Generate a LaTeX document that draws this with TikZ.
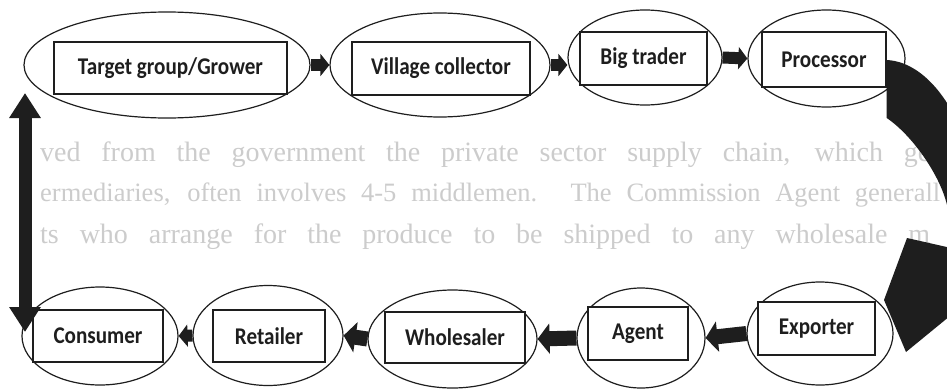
\documentclass[tikz,border=0pt]{standalone}
\usepackage{fontspec}
\setmainfont{Carlito}
\newfontfamily\boxfont[FakeStretch=0.88]{Carlito}
\newfontfamily\pagefont{Liberation Serif}
\usetikzlibrary{shapes.geometric,arrows.meta}

\definecolor{inkdark}{HTML}{1E1E1E}
\definecolor{pagetext}{HTML}{CCCCCC}

\tikzset{
  stageoval/.style={ellipse, draw=inkdark, line width=1.2pt, fill=white, inner sep=0pt},
  stagebox/.style={rectangle, draw=inkdark, line width=1.4pt, fill=white, inner sep=0pt,
    font=\boxfont\fontsize{24}{26}\selectfont\bfseries, text=inkdark},
  flowtop/.style={draw=inkdark, line width=12pt, -{Triangle[length=9pt,width=22pt]}},
  flowbot/.style={draw=inkdark, line width=15pt, -{Triangle[length=12pt,width=30pt]}},
  returnflow/.style={draw=inkdark, line width=13pt,
    {Triangle[length=25pt,width=30pt]}-{Triangle[length=25pt,width=30pt]}},
  pageline/.style={anchor=west, inner sep=0pt, text=pagetext,
    font=\pagefont\fontsize{28}{32}\selectfont},
}

\begin{document}
\begin{tikzpicture}[x=1pt, y=-1pt]
  \useasboundingbox (0,0) rectangle (947,388);
  \clip (0,0) rectangle (947,388);
  \fill[white] (0,0) rectangle (947,388);

  % running text of the page behind the chart
  \node[pageline] (p1) at (40,155) {\makebox[890pt][s]{ved from the government the private sector supply chain, which ge}};
  \node[pageline, font=\pagefont\fontsize{26.5}{30}\selectfont] (p2) at (40,195) {\makebox[900pt][s]{ermediaries, often involves 4-5 middlemen. The Commission Agent generall}};
  \node[pageline] (p3) at (40,237) {\makebox[890pt][s]{ts who arrange for the produce to be shipped to any wholesale m}};

  % upper row: grower to processor
  \node[stageoval, minimum width=286pt, minimum height=106pt] (e1) at (167,65) {};
  \node[stagebox, minimum width=233pt, minimum height=52pt] (r1) at (170.5,68) {Target group/Grower};

  \node[stageoval, minimum width=220pt, minimum height=104pt] (e2) at (440,65) {};
  \node[stagebox, minimum width=178pt, minimum height=53pt] (r2) at (441,68.5) {Village collector};

  \node[stageoval, minimum width=154pt, minimum height=95pt] (e3) at (645,57.5) {};
  \node[stagebox, minimum width=127pt, minimum height=53pt] (r3) at (643.5,58.5) {Big trader};

  \node[stageoval, minimum width=157pt, minimum height=97pt] (e4) at (826.5,58.5) {};
  \node[stagebox, minimum width=124pt, minimum height=55pt] (r4) at (824,59.5) {Processor};

  % lower row: exporter to consumer
  \node[stageoval, minimum width=156pt, minimum height=98pt] (e5) at (100,336) {};
  \node[stagebox, minimum width=130pt, minimum height=52pt] (r5) at (98,336) {Consumer};

  \node[stageoval, minimum width=150pt, minimum height=100pt] (e6) at (268,335.5) {};
  \node[stagebox, minimum width=112pt, minimum height=52pt] (r6) at (269,336) {Retailer};

  \node[stageoval, minimum width=169pt, minimum height=98pt] (e7) at (452.5,339) {};
  \node[stagebox, minimum width=140pt, minimum height=51pt] (r7) at (455,337.5) {Wholesaler};

  \node[stageoval, minimum width=128pt, minimum height=100pt] (e8) at (641,338) {};
  \node[stagebox, minimum width=100pt, minimum height=53pt] (r8) at (638,333.5) {Agent};

  \node[stageoval, minimum width=146pt, minimum height=103pt] (e9) at (820,333.5) {};
  \node[stagebox, minimum width=117pt, minimum height=53pt] (r9) at (816.5,328.5) {Exporter};

  % flow along the upper row
  \draw[flowtop] (e1.east) -- (e2.west);
  \draw[flowtop] (e2.east) -- (e2.east -| e3.west);
  \draw[flowtop] (e3.east) -- (e4.west);

  % flow along the lower row
  \draw[flowbot] (e9.west) -- (e8.east);
  \draw[flowbot] (e8.west) -- (e7.east);
  \draw[flowbot] (e7.west) -- (e6.east);
  \draw[flowtop] (e6.west) -- (e5.east);

  % consumer back to grower
  \coordinate (looptop) at (25,93);
  \coordinate (loopbot) at (25,332);
  \draw[returnflow] (looptop) -- (loopbot);

  % curved arrow from processor down to exporter
  \fill[inkdark] (r4.east |- 0,60)
    .. controls (930,62) and (970,120) .. (978,200)
    -- (985,262) -- (1000,275) -- (906,352) -- (884,300) -- (907,238) -- (960,250)
    .. controls (955,230) and (950,215) .. (947,205)
    .. controls (940,175) and (912,135) .. (r4.east |- 0,118)
    -- cycle;
\end{tikzpicture}
\end{document}
